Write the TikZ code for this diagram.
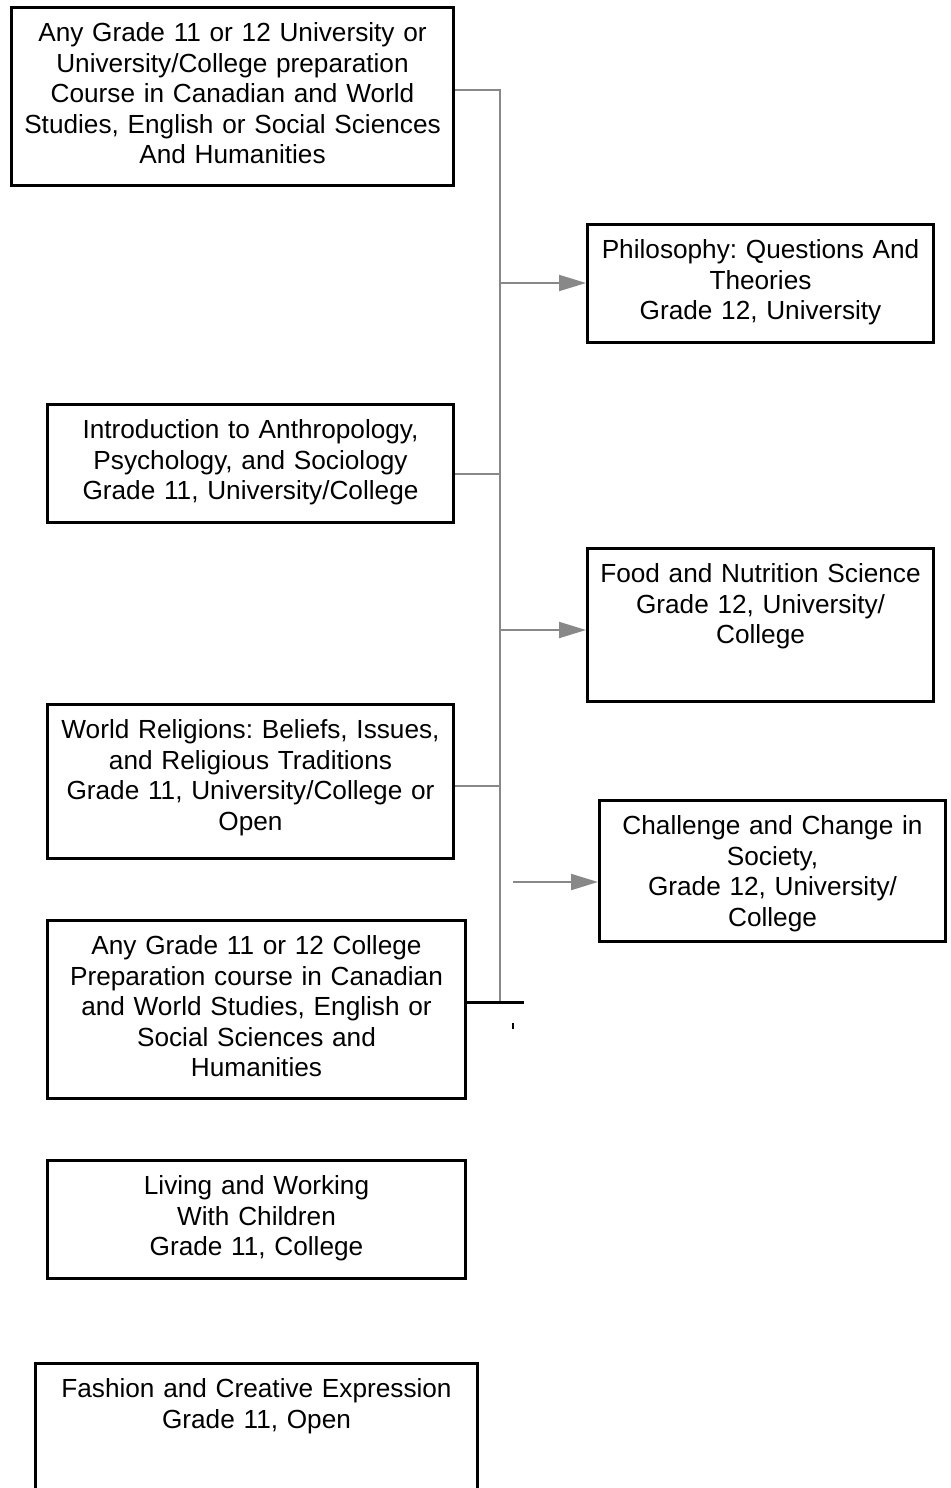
\documentclass[tikz,border=0pt]{standalone}
\usepackage{fontspec}
\setmainfont{Liberation Sans}
\usetikzlibrary{arrows.meta}
\definecolor{linkgray}{RGB}{136,136,136}
\begin{document}
\begin{tikzpicture}[x=0.5pt,y=-0.5pt,
		course/.style={draw, line width=1.5pt, inner sep=0pt, align=center, anchor=north west,
			text height=17pt, font=\fontsize{13.1pt}{15.25pt}\selectfont\frenchspacing},
		link/.style={linkgray, line width=1pt},
		arr/.style={link, -{Triangle[length=13.5pt,width=8pt]}}]
		\useasboundingbox (0,0) rectangle (951,1488);
		%
		\node[course, text width=221pt, text depth=72pt] (anyuni) at (10,6) {Any Grade 11 or 12 University or\\University/College preparation\\Course in Canadian and World\\Studies, English or Social Sciences\\And Humanities};
		\node[course, text width=173pt, text depth=42pt] (philo) at (586,223) {Philosophy: Questions And\\Theories\\Grade 12, University};
		\node[course, text width=203pt, text depth=42pt] (intro) at (46,403) {Introduction to Anthropology,\\Psychology, and Sociology\\Grade 11, University/College};
		\node[course, text width=173pt, text depth=59.5pt] (food) at (586,547) {Food and Nutrition Science\\Grade 12, University/\\College};
		\node[course, text width=203pt, text depth=60pt] (religions) at (46,703) {World Religions: Beliefs, Issues,\\and Religious Traditions\\Grade 11, University/College or\\Open};
		\node[course, text width=173pt, text depth=53.5pt] (change) at (598,799) {Challenge and Change in\\Society,\\Grade 12, University/\\College};
		\node[course, text width=209pt, text depth=72pt] (anycol) at (46,919) {Any Grade 11 or 12 College\\Preparation course in Canadian\\and World Studies, English or\\Social Sciences and\\Humanities};
		\node[course, text width=209pt, text depth=42pt] (children) at (46,1159) {Living and Working\\With Children\\Grade 11, College};
		\node[course, text width=221pt, text depth=71pt] (fashion) at (34,1362) {Fashion and Creative Expression\\Grade 11, Open};
		%
		\coordinate (top) at (500,90);
		\coordinate (bottom) at (500,1001);
		\coordinate (j1) at (500,283);
		\coordinate (j2) at (500,474);
		\coordinate (j3) at (500,630);
		\coordinate (j4) at (500,786);
		\coordinate (j5) at (513,882);
		\coordinate (stub) at (524,1002);
		\coordinate (tick) at (513,1023);
		%
		\draw[link] (anyuni.east |- top) -- (top) -- (bottom);
		\draw[arr] (j1) -- (philo.west |- j1);
		\draw[link] (intro.east |- j2) -- (j2);
		\draw[arr] (j3) -- (food.west |- j3);
		\draw[link] (religions.east |- j4) -- (j4);
		\draw[arr] (j5) -- (change.west |- j5);
		\draw[line width=1.5pt] (anycol.east |- stub) -- (stub);
		\draw[line width=0.6pt] (tick) -- ++(0,6);
		%
	\end{tikzpicture}
\end{document}
